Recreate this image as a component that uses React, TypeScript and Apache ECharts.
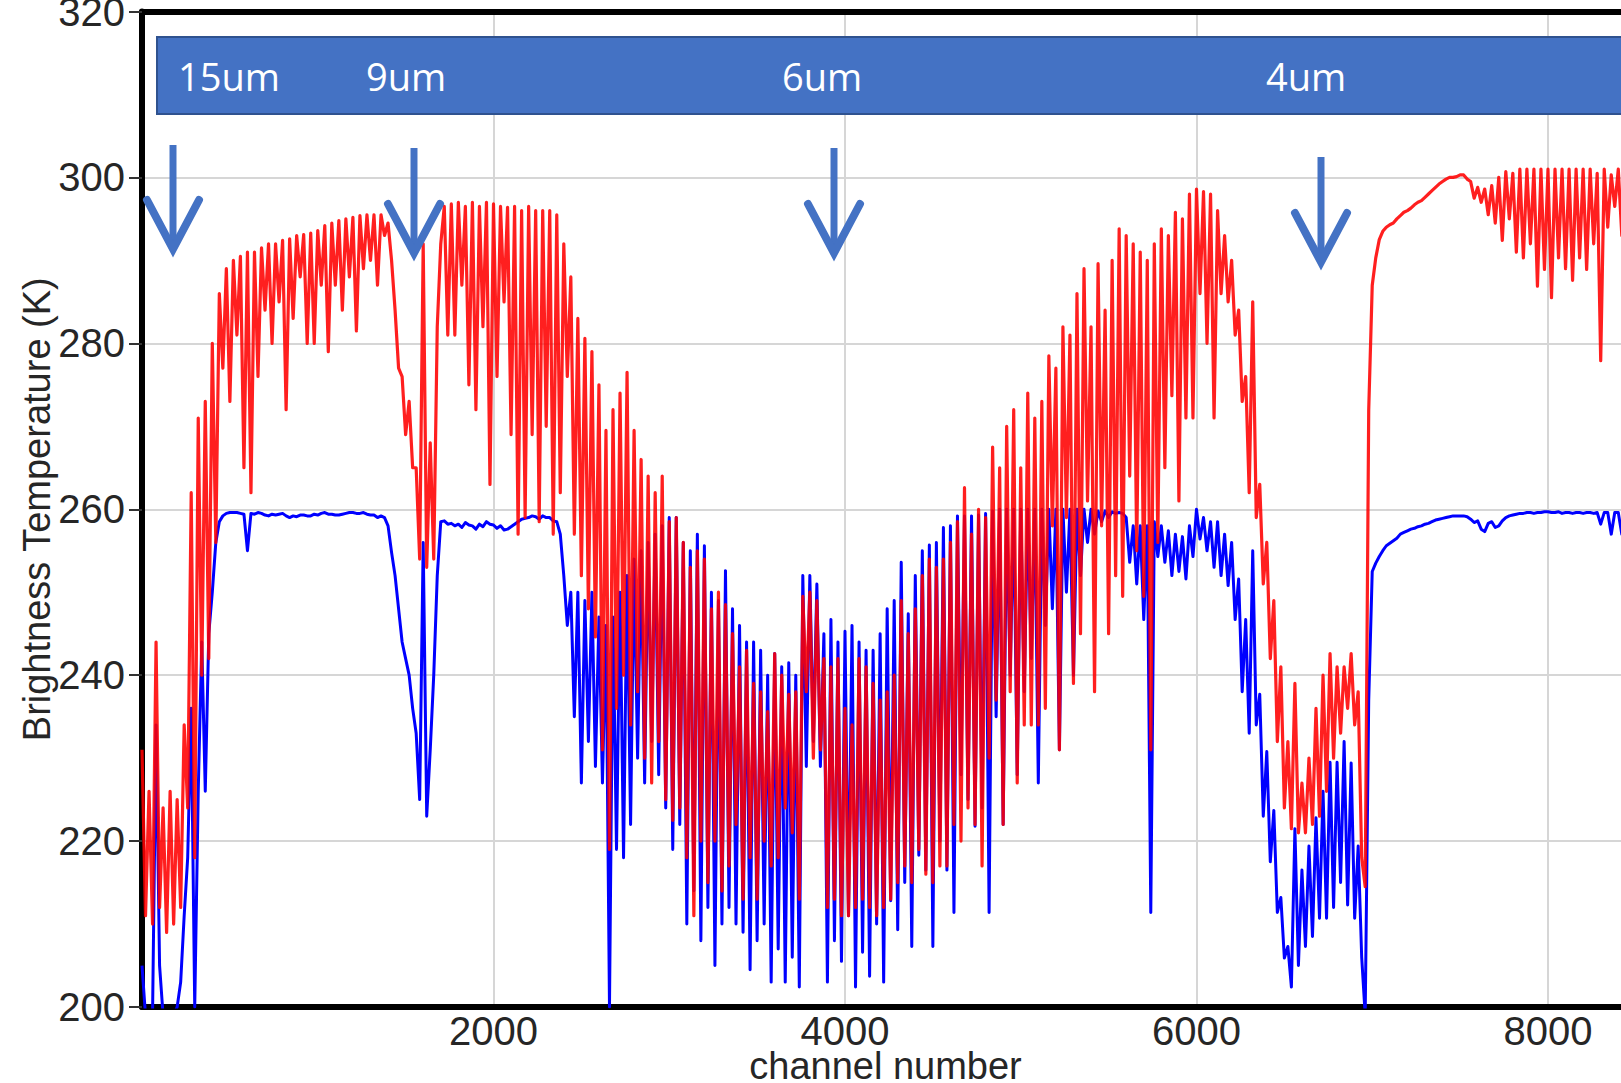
import React, { useEffect, useRef } from "react";
import * as echarts from "echarts";

// ---- data ----
// channel spacing of the sampled envelope: each entry i is channel i*40 (top) and i*40+20 (low)
const STEP = 40;
const HALF = 20;

const redTop = [
  231, 226, 244, 224, 226, 225, 234, 262, 271, 273,
  280, 286, 289, 290, 290.5, 291, 291, 291.5, 292, 292,
  292.4, 292.6, 293, 293.1, 293.3, 293.6, 294.2, 294.5, 294.8, 295,
  295.2, 295.4, 295.5, 295.5, 295.5, 294.5, 284, 276, 273, 265,
  292, 268, 282, 296.5, 296.8, 297, 296.5, 297, 296.5, 297,
  296.8, 296.5, 296.4, 296.5, 296, 296.5, 296, 296, 296, 295.5,
  292, 288, 283, 280.6, 279, 275, 269.5, 272, 274, 276.5,
  269.5, 266, 264, 262, 264, 258.5, 259, 256, 253, 255,
  254, 248, 250, 248.5, 245, 241, 243, 239, 238, 235.6,
  242.6, 240, 237.7, 238, 249.5, 250, 249, 242, 241, 242,
  236, 234, 242, 241, 239, 237, 238, 240, 249, 245,
  248, 252, 254, 253, 254, 256, 258.5, 262.6, 257, 260,
  259, 267.5, 265, 270, 272, 265, 274, 271, 273, 278.5,
  277, 282, 281, 286, 289, 282, 289.6, 284, 290, 293.8,
  293, 292, 291, 290, 292, 293.8, 293, 295.8, 295, 298,
  298.6, 298.3, 298, 296, 293, 290, 284, 276, 285, 263,
  256, 249, 241, 232, 239, 227, 230, 236, 240, 242.6,
  241, 241, 242.6, 238, 214.5, 287, 292.5, 294, 294.5, 295.4,
  296, 296.7, 297.2, 298, 298.8, 299.5, 300, 300.1, 300.3, 299.5,
  298.8, 298.6, 299, 300, 300.7, 300.5, 301, 301, 301, 301,
  301, 301, 301, 301, 301, 301, 301, 300.5, 301, 300.3, 301, 300.5,
];

const redLow = [
  211, 210, 212, 209, 210, 212, 224, 218, 240, 242,
  256, 277, 273, 281, 265, 262, 276, 284, 280, 285,
  272, 283, 288, 280, 280, 287, 279, 287, 284, 288,
  281.5, 289, 290, 287, 293, 290, 277, 269, 265, 254,
  253, 254, 292, 281, 281, 287, 275, 272, 282, 263,
  276, 285, 269, 257, 259, 269, 258.5, 270, 257, 262,
  276, 257, 252, 248, 244.6, 231, 219, 236, 240, 234,
  238, 230, 227, 232, 225, 222.5, 224, 218, 211, 220,
  215, 220, 214, 217, 222, 213, 218, 213, 220, 217,
  218, 224, 221, 213, 238, 230, 231, 212, 213, 211,
  211, 212, 213, 212, 211, 212, 213, 215, 217, 215,
  219, 216, 215, 217, 217, 222, 220, 224, 222, 217,
  230, 237, 222, 238, 227, 234, 234, 234, 236, 258,
  231, 259, 239, 245, 261, 238, 258, 245, 252, 249.5,
  264, 255, 249.5, 231, 256, 265, 273.7, 261, 271, 271,
  286, 280, 271, 286, 285, 281, 273, 262, 259, 251,
  242, 232, 224, 221.5, 221, 221, 222, 223, 226, 230,
  233, 236, 234, 218, 272, 290.3, 293.5, 294.3, 295, 295.8,
  296.3, 297, 297.6, 298.4, 299.2, 299.8, 300, 300.3, 299.8, 297.5,
  297, 295.5, 294.5, 292.4, 295, 291, 290.3, 292, 286.9, 288.9,
  285.5, 290.3, 289, 287.6, 290.3, 288.9, 292, 277.9, 294, 296.5, 293, 295,
];

const blueTop = [
  205, 199, 234, 199, 199, 200, 211, 236, 226, 226,
  250, 258.5, 259.5, 259.6, 259.5, 255, 259.4, 259.5, 259.2, 259.3,
  259.5, 259, 259.1, 259.3, 259.2, 259.3, 259.6, 259.4, 259.3, 259.5,
  259.6, 259.5, 259.4, 259.3, 259.2, 258, 252, 244, 240, 233,
  256, 231, 252, 258.6, 258.3, 258.2, 258.4, 258, 258.2, 258.5,
  258.1, 258, 257.6, 258.2, 258.8, 259, 259.1, 259.2, 259, 258.5,
  252, 250, 250, 249, 250, 247, 246, 247, 250, 252,
  254, 255, 256, 257, 258, 259, 259, 256, 255, 257,
  255.6, 250, 249, 252.6, 248, 246, 244, 244, 243, 240,
  242.6, 241, 241.5, 240, 252, 252, 251, 245, 246.7, 244,
  245.3, 246, 244, 243, 243, 245, 248, 249, 253.6, 247.4,
  252, 255, 255.7, 256, 257.8, 258, 259.2, 259.2, 259.2, 259.3,
  259.5, 259.8, 260, 260, 260, 260, 260, 260, 260, 260,
  260, 260, 260, 260, 260, 260, 259.8, 259.8, 259.7, 259.6,
  259, 258, 258, 258, 258.5, 258, 257.4, 257, 256.7, 258,
  260, 259, 258.5, 258.5, 257, 256, 251.6, 246.7, 255, 237.7,
  230.8, 223.7, 213.2, 207.3, 221.5, 216.5, 219.4, 222.8, 226, 229.5,
  229.5, 232, 229.4, 219.4, 199, 252.5, 254.3, 255.6, 256.2, 257,
  257.4, 257.7, 258, 258.3, 258.7, 258.9, 259.1, 259.2, 259.2, 258.8,
  258.6, 257.3, 258.5, 258, 259, 259.3, 259.5, 259.6, 259.5, 259.6,
  259.7, 259.6, 259.5, 259.6, 259.6, 259.5, 259.6, 259.6, 259.6, 257, 259.6, 259.6,
];

const blueLow = [
  199, 199, 205, 199, 199, 203, 218, 200, 244, 245,
  256, 259.2, 259.6, 259.6, 259.4, 259.5, 259.6, 259.3, 259.4, 259.4,
  259.2, 259.2, 259.3, 259.2, 259.4, 259.5, 259.4, 259.3, 259.4, 259.6,
  259.5, 259.6, 259.3, 259.0, 259, 254.8, 248, 242, 236, 225,
  223, 240, 258.5, 258.2, 258, 257.8, 258.1, 257.6, 257.9, 258.2,
  257.7, 257.5, 257.9, 258.5, 258.9, 259.2, 258.8, 259, 258.6, 257,
  246, 235, 227, 232, 229, 227, 200, 219, 218, 222,
  230, 227, 232, 228, 224, 219, 222, 210, 214, 208,
  212, 205, 210, 212, 210, 209, 204.5, 208, 210, 203,
  207, 203, 206, 202.4, 229, 232, 229, 203, 208, 205.5,
  211, 202.4, 206.6, 203.7, 210, 203, 212.8, 209.3, 215, 207.3,
  218.3, 216.5, 207.3, 220, 216.5, 211.4, 228, 225, 221.8, 224,
  211.4, 235, 222, 240, 228, 238, 242, 227, 246, 248,
  231, 250, 240, 252, 256, 257, 258.5, 259, 259.5, 259.5,
  253.6, 251, 246.7, 211.4, 254.3, 253.6, 252, 252.5, 251.6, 254.3,
  256.4, 255, 253, 252, 250.8, 246.7, 238, 233, 234, 223,
  217.5, 211.4, 205.9, 202.4, 205, 207.3, 208.5, 210.7, 210.7, 212,
  215, 212.3, 210.7, 206, 237, 253.5, 255, 255.9, 256.5, 257.2,
  257.6, 257.9, 258.2, 258.5, 258.8, 259, 259.2, 259.2, 259.1, 258.4,
  257.6, 258.3, 257.8, 258.6, 259.2, 259.4, 259.5, 259.6, 259.6, 259.7,
  259.6, 259.7, 259.6, 259.5, 259.6, 259.6, 259.5, 258.2, 259.6, 259.6, 257, 258,
];

const bandLabels = ["15um", "9um", "6um", "4um"];
const xTickInterval = 2000;
const channelMax = 8461;
const yMin = 200;
const yMax = 320;
const yInterval = 20;

function buildSeries(top: number[], low: number[]) {
  const out: [number, number][] = [];
  const n = Math.min(top.length, low.length);
  for (let i = 0; i < n; i++) {
    out.push([i * STEP, top[i]]);
    out.push([i * STEP + HALF, low[i]]);
  }
  return out;
}

// ---- layout (pixels) ----
const CHART_W = 1632;
const CHART_H = 1083;
const labelX = [178, 366, 782, 1266];
const arrows = [
  { x: 173, top: 145, tip: 249 },
  { x: 414, top: 148, tip: 253 },
  { x: 834, top: 148, tip: 253 },
  { x: 1321, top: 157, tip: 262 },
];

export default function App() {
  const ref = useRef<HTMLDivElement>(null);

  useEffect(() => {
    if (!ref.current) return;
    const chart = echarts.init(ref.current, undefined, { renderer: "svg" });
    const axisFont = { fontFamily: "Liberation Sans", fontSize: 40, color: "#262626" };
    const ARROW = "#4472C4";

    const graphic: any[] = [
      {
        type: "rect",
        z: 100,
        shape: { x: 157, y: 37, width: 1500, height: 77 },
        style: { fill: "#4472C4", stroke: "#2F528F", lineWidth: 2 },
      },
      ...bandLabels.map((t, i) => ({
        type: "text",
        z: 101,
        x: labelX[i],
        y: 76,
        style: {
          text: t,
          fill: "#ffffff",
          font: '38px "Open Sans"',
          textAlign: "left",
          textVerticalAlign: "middle",
        },
      })),
    ];
    arrows.forEach((a) => {
      graphic.push({
        type: "line",
        z: 100,
        shape: { x1: a.x, y1: a.top, x2: a.x, y2: a.tip - 6 },
        style: { stroke: ARROW, lineWidth: 7 },
      });
      graphic.push({
        type: "polyline",
        z: 100,
        shape: { points: [[a.x - 26, a.tip - 49], [a.x, a.tip], [a.x + 26, a.tip - 49]] },
        style: { stroke: ARROW, lineWidth: 8, fill: null, lineJoin: "miter", lineCap: "round" },
      });
    });

    chart.setOption({
      animation: false,
      backgroundColor: "#ffffff",
      grid: {
        left: 142,
        right: CHART_W - 1629,
        top: 11.5,
        bottom: 76,
        containLabel: false,
        outerBoundsMode: "none",
      },
      xAxis: [
        {
          type: "value",
          min: 0,
          max: channelMax,
          interval: xTickInterval,
          name: "channel number",
          nameLocation: "middle",
          nameGap: 40,
          nameMoveOverlap: false,
          nameTextStyle: { fontFamily: "Liberation Sans", fontSize: 38, color: "#262626" },
          axisLine: { show: true, onZero: false, lineStyle: { color: "#000", width: 6 } },
          axisTick: { show: false },
          axisLabel: {
            ...axisFont,
            margin: 4,
            showMinLabel: false,
            showMaxLabel: false,
            formatter: (v: number) => String(Math.round(v)),
          },
          splitLine: { show: true, lineStyle: { color: "#d6d6d6", width: 2 } },
        },
        {
          type: "value",
          position: "top",
          min: 0,
          max: channelMax,
          axisLine: { show: true, onZero: false, lineStyle: { color: "#000", width: 6 } },
          axisTick: { show: false },
          axisLabel: { show: false },
          splitLine: { show: false },
        },
      ],
      yAxis: {
        type: "value",
        min: yMin,
        max: yMax,
        interval: yInterval,
        name: "Brightness Temperature (K)",
        nameLocation: "middle",
        nameGap: 86,
        nameMoveOverlap: false,
        nameTextStyle: { fontFamily: "Liberation Sans", fontSize: 38, color: "#262626" },
        axisLine: { show: true, onZero: false, lineStyle: { color: "#000", width: 6 } },
        axisTick: { show: true, inside: false, length: 13, lineStyle: { color: "#333", width: 2 } },
        axisLabel: { ...axisFont, margin: 17 },
        splitLine: { show: true, lineStyle: { color: "#d6d6d6", width: 2 } },
      },
      graphic,
      series: [
        {
          name: "cold",
          type: "line",
          xAxisIndex: 0,
          data: buildSeries(blueTop, blueLow),
          showSymbol: false,
          symbol: "none",
          lineStyle: { color: "#0000ff", width: 3, join: "round" },
          itemStyle: { color: "#0000ff" },
          z: 2,
        },
        {
          name: "warm",
          type: "line",
          xAxisIndex: 0,
          data: buildSeries(redTop, redLow),
          showSymbol: false,
          symbol: "none",
          lineStyle: { color: "#ff0000", width: 3.2, opacity: 0.88, join: "round" },
          itemStyle: { color: "#ff0000" },
          z: 3,
        },
      ],
    });
    return () => chart.dispose();
  }, []);

  return (
    <div
      style={{
        position: "fixed",
        left: 0,
        top: 0,
        width: 1621,
        height: 1083,
        overflow: "hidden",
        background: "#fff",
      }}
    >
      <div ref={ref} style={{ width: CHART_W, height: CHART_H }} />
    </div>
  );
}
